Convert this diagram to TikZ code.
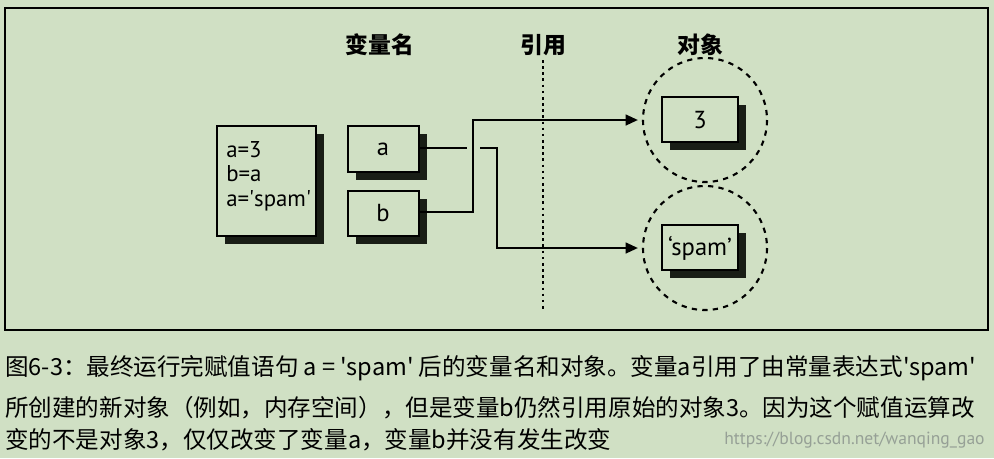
\documentclass[tikz,border=0pt]{standalone}
\usepackage{fontspec}
\setmainfont{PT Sans}
\newfontfamily\cjk{Noto Sans CJK SC}
\usetikzlibrary{arrows.meta}
\definecolor{bgcol}{RGB}{208,224,196}
\definecolor{shadowcol}{RGB}{25,30,22}
\definecolor{markcol}{RGB}{150,160,150}
\tikzset{
  box/.style={draw=black, line width=0.9pt, fill=bgcol},
  boxshadow/.style={fill=shadowcol},
  boxtext/.style={font=\fontsize{14}{16}\selectfont},
  ref/.style={line width=1.4pt, -{Triangle[length=7pt,width=6pt]}},
  objring/.style={line width=1.2pt, dash pattern=on 3pt off 3pt},
  head/.style={font=\cjk\bfseries\fontsize{13}{15}\selectfont},
  captext/.style={anchor=west, font=\cjk\fontsize{13.4}{16}\selectfont, inner sep=0pt}
}
\begin{document}
\begin{tikzpicture}[x=0.02cm, y=-0.02cm]
    \useasboundingbox (0,0) rectangle (994,458);
    \fill[bgcol] (0,0) rectangle (994,458);
    \draw[line width=0.6pt] (5,8) rectangle (988,330);

    % Shadows under the boxes
    \fill[boxshadow] (225,134) rectangle (324,244);
    \fill[boxshadow] (356,134) rectangle (427,180);
    \fill[boxshadow] (356,199) rectangle (427,244);
    \fill[boxshadow] (670,105) rectangle (746,150);
    \fill[boxshadow] (670,233) rectangle (746,278);

    % Boxes
    \draw[box] (217,126) rectangle (316,236);
    \node[anchor=north west, align=left, inner sep=0pt,
      font=\fontsize{13}{14}\selectfont] (code) at (226,141)
      {a=3\\b=a\\a=\textquotesingle spam\textquotesingle};
    \draw[box] (348,126) rectangle (419,172);
    \node[boxtext] (a) at (383,149) {a};
    \draw[box] (348,191) rectangle (419,236);
    \node[boxtext] (b) at (383,213) {b};
    \draw[box] (662,97) rectangle (738,142);
    \node[boxtext] (three) at (700,120) {3};
    \draw[box] (662,225) rectangle (738,270);
    \node[boxtext] (spam) at (700,248) {`spam'};

    % Object rings
    \draw[objring] (705,120) circle [radius=62];
    \draw[objring] (705,248) circle [radius=62];

    % Headings and the reference line
    \node[head] (hname) at (380,45) {变量名};
    \node[head] (href) at (543,45) {引用};
    \node[head] (hobj) at (700,45) {对象};
    \draw[line width=1.5pt, dotted] (543,60) -- (543,312);

    % References
    \coordinate (aout) at (419,148);
    \coordinate (bout) at (419,212);
    \coordinate (tothree) at (638,120);
    \coordinate (tospam) at (638,248);
    \draw[line width=1.4pt] (aout) -- (467,148);
    \draw[ref] (480,148) -- (497,148) -- (497,248) -- (tospam);
    \draw[ref] (bout) -- (473,212) -- (473,120) -- (tothree);

    % Caption
    \node[captext] (l1) at (5,368) {图6-3：最终运行完赋值语句 a = 'spam' 后的变量名和对象。变量a引用了由常量表达式'spam'};
    \node[captext] (l2) at (5,408) {所创建的新对象（例如，内存空间），但是变量b仍然引用原始的对象3。因为这个赋值运算改};
    \node[captext] (l3) at (5,440) {变的不是对象3，仅仅改变了变量a，变量b并没有发生改变};
    \node[anchor=east, text=markcol, font=\fontsize{10}{12}\selectfont, inner sep=0pt]
      (mark) at (985,440) {https://blog.csdn.net/wanqing\_gao};
\end{tikzpicture}
\end{document}
